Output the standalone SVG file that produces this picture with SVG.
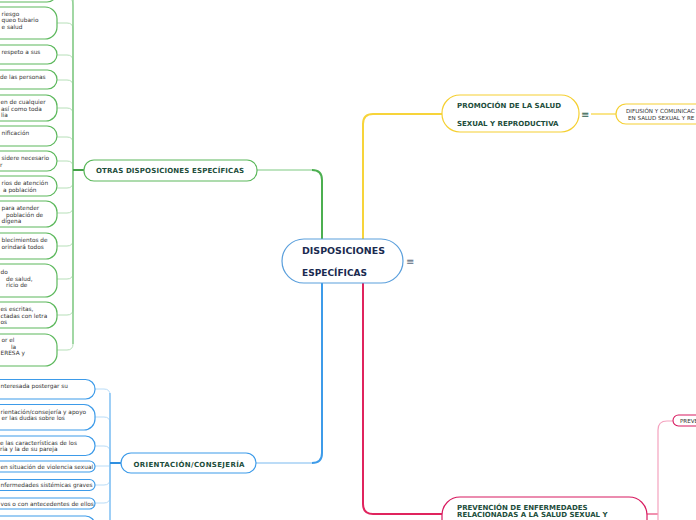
<svg xmlns="http://www.w3.org/2000/svg" width="696" height="520" viewBox="0 0 696 520">
<style>
.t{font-family:"DejaVu Sans",Verdana,sans-serif;font-size:5.8px;fill:#333}
.b{font-family:"DejaVu Sans",Verdana,sans-serif;font-weight:bold;font-size:7px;fill:#1d4d3b}
.gn{fill:#fff;stroke:#5cb85c;stroke-width:1.2}
.bn{fill:#fff;stroke:#3d9be9;stroke-width:1.2}
.gs{fill:none;stroke:#b6dfb8;stroke-width:1}
.bs{fill:none;stroke:#b9dcf7;stroke-width:1}
.ic{font-family:"DejaVu Sans",sans-serif;font-size:10px;fill:#5a6b7d}
</style>
<rect width="696" height="520" fill="#fff"/>
<g id="connectors">
  <path class="gs" d="M73 170V6Q73 -3 67 -3H57"/>
  <path class="gs" d="M73 170V29Q73 23 67 23H57"/>
  <path class="gs" d="M73 170V61Q73 55 67 55H57"/>
  <path class="gs" d="M73 170V86Q73 80 67 80H57"/>
  <path class="gs" d="M73 170V114Q73 108 67 108H57"/>
  <path class="gs" d="M73 170V143Q73 137 67 137H57"/>
  <path class="gs" d="M73 170V167Q73 161 67 161H57"/>
  <path class="gs" d="M73 170V182Q73 188 67 188H57"/>
  <path class="gs" d="M73 170V207Q73 213 67 213H57"/>
  <path class="gs" d="M73 170V240Q73 246 67 246H57"/>
  <path class="gs" d="M73 170V273Q73 279 67 279H57"/>
  <path class="gs" d="M73 170V309Q73 315 67 315H57"/>
  <path class="gs" d="M73 170V344Q73 350 67 350H57"/>
  <path fill="none" stroke="#74c477" stroke-width="1.1" d="M73 0V344"/>
  <path fill="none" stroke="#43a047" stroke-width="2" d="M84 170H73"/>
  <path fill="none" stroke="#a9dbab" stroke-width="1.5" d="M257 170H313"/>
  <path fill="none" stroke="#4caf50" stroke-width="2" d="M312 170Q322 170 322 180V239"/>
  <path class="bs" d="M110 463V395Q110 389 104 389H95"/>
  <path class="bs" d="M110 463V423Q110 417 104 417H95"/>
  <path class="bs" d="M110 463V452Q110 446 104 446H95"/>
  <path class="bs" d="M110 463V466H95"/>
  <path class="bs" d="M110 463V479Q110 485 104 485H95"/>
  <path class="bs" d="M110 463V497Q110 503 104 503H95"/>
  <path class="bs" d="M110 463V520"/>
  <path fill="none" stroke="#6cb6f2" stroke-width="1.1" d="M110 393V520"/>
  <path fill="none" stroke="#2f8fe0" stroke-width="2" d="M121 463H110"/>
  <path fill="none" stroke="#a6d1f5" stroke-width="1.5" d="M256 463H313"/>
  <path fill="none" stroke="#3d9be9" stroke-width="2" d="M312 463Q322 463 322 453V283"/>
  <path fill="none" stroke="#f7d43a" stroke-width="2" d="M363 239V124Q363 114 373 114H442"/>
  <path fill="none" stroke="#f7d43a" stroke-width="1.2" d="M591 114H616"/>
  <path fill="none" stroke="#e0245e" stroke-width="2" d="M363 283V504Q363 514 373 514H442"/>
  <path fill="none" stroke="#ec6d95" stroke-width="1.5" d="M647 514H658"/>
  <path fill="none" stroke="#f4a3bf" stroke-width="1.2" d="M658 520V430Q658 421 667 421H673"/>
</g>

<g id="n-center">
  <rect x="282" y="239" width="121" height="44" rx="22" fill="#fff" stroke="#5a9fdc" stroke-width="1.2"/>
  <text x="302" y="254" font-family="DejaVu Sans,Verdana,sans-serif" font-weight="bold" font-size="8.7" fill="#1a2a50" textLength="83" lengthAdjust="spacingAndGlyphs">DISPOSICIONES</text>
  <text x="302" y="276" font-family="DejaVu Sans,Verdana,sans-serif" font-weight="bold" font-size="8.7" fill="#1a2a50" textLength="65" lengthAdjust="spacingAndGlyphs">ESPECÍFICAS</text>
  <text class="ic" x="406" y="265">≡</text>
</g>

<g id="n-otras">
  <rect x="84" y="160" width="173" height="21" rx="10" fill="#fff" stroke="#5cb85c" stroke-width="1.2"/>
  <text class="b" x="96" y="173" textLength="148">OTRAS DISPOSICIONES ESPECÍFICAS</text>
</g>

<g id="n-orient">
  <rect x="121" y="453" width="135" height="20" rx="10" fill="#fff" stroke="#3d9be9" stroke-width="1.2"/>
  <text class="b" x="133.5" y="466.5" textLength="111">ORIENTACIÓN/CONSEJERÍA</text>
</g>

<g id="n-promo">
  <rect x="442" y="95" width="137" height="37" rx="18" fill="#fff" stroke="#f5d033" stroke-width="1.2"/>
  <text class="b" x="457" y="108" textLength="104">PROMOCIÓN DE LA SALUD</text>
  <text class="b" x="457" y="126">SEXUAL Y REPRODUCTIVA</text>
  <text class="ic" x="581" y="118" style="fill:#2e5d4a">≡</text>
</g>

<g id="n-difusion">
  <rect x="616" y="104" width="120" height="20" rx="10" fill="#fff" stroke="#f5d033" stroke-width="1.2"/>
  <text class="t" x="626" y="112.5" style="font-size:5.6px">DIFUSIÓN Y COMUNICAC</text>
  <text class="t" x="628" y="119.5" style="font-size:5.6px">EN SALUD SEXUAL Y RE</text>
</g>

<g id="n-prevencion">
  <rect x="442" y="497" width="205" height="46" rx="18" fill="#fff" stroke="#d81b60" stroke-width="1.2"/>
  <text class="b" x="457" y="509.5">PREVENCIÓN DE ENFERMEDADES</text>
  <text class="b" x="457" y="517">RELACIONADAS A LA SALUD SEXUAL Y</text>
</g>

<g id="n-prev2">
  <rect x="673" y="415" width="60" height="11" rx="5.5" fill="#fff" stroke="#d81b60" stroke-width="1.1"/>
  <text class="t" x="680" y="422.7" style="font-size:5.6px">PREVE</text>
</g>

<g id="g1"><rect class="gn" x="-100" y="-22" width="157" height="24" rx="10"/></g>
<g id="g2"><rect class="gn" x="-100" y="7" width="157" height="32" rx="12"/>
  <text class="t" x="1.5" y="16">riesgo</text><text class="t" x="1.5" y="22.3">queo tubario</text><text class="t" x="1.5" y="29">e salud</text></g>
<g id="g3"><rect class="gn" x="-100" y="45" width="157" height="19" rx="9.5"/>
  <text class="t" x="1.5" y="53.5">respeto a sus</text></g>
<g id="g4"><rect class="gn" x="-100" y="70" width="157" height="19" rx="9.5"/>
  <text class="t" x="0" y="79">de las personas</text></g>
<g id="g5"><rect class="gn" x="-100" y="95" width="157" height="26" rx="11"/>
  <text class="t" x="0.5" y="104">en de cualquier</text><text class="t" x="1" y="110.5">así como toda</text><text class="t" x="1" y="117">lia</text></g>
<g id="g6"><rect class="gn" x="-100" y="126" width="157" height="20" rx="10"/>
  <text class="t" x="1.5" y="135">nificación</text></g>
<g id="g7"><rect class="gn" x="-100" y="151" width="157" height="20" rx="10"/>
  <text class="t" x="1.5" y="160">sidere necesario</text><text class="t" x="0" y="167">r</text></g>
<g id="g8"><rect class="gn" x="-100" y="176" width="157" height="20" rx="10"/>
  <text class="t" x="1.5" y="185">rios de atención</text><text class="t" x="3" y="192">a población</text></g>
<g id="g9"><rect class="gn" x="-100" y="201" width="157" height="26" rx="11"/>
  <text class="t" x="1.5" y="210">para atender</text><text class="t" x="6" y="216.7">población de</text><text class="t" x="1.5" y="223.4">dígena</text></g>
<g id="g10"><rect class="gn" x="-100" y="233" width="157" height="26" rx="11"/>
  <text class="t" x="1.5" y="242">blecimientos de</text><text class="t" x="1.5" y="248.5">orindará todos</text></g>
<g id="g11"><rect class="gn" x="-100" y="264" width="157" height="33" rx="12"/>
  <text class="t" x="0.5" y="274">do</text><text class="t" x="6" y="280.5">de salud,</text><text class="t" x="6" y="287">ricio de</text></g>
<g id="g12"><rect class="gn" x="-100" y="302" width="157" height="26" rx="11"/>
  <text class="t" x="0.5" y="311">es escritas,</text><text class="t" x="0.5" y="317.5">ctadas con letra</text><text class="t" x="0.5" y="324">os</text></g>
<g id="g13"><rect class="gn" x="-100" y="334" width="157" height="32" rx="12"/>
  <text class="t" x="1.5" y="342">or el</text><text class="t" x="11" y="348.5">la</text><text class="t" x="0.5" y="355">ERESA y</text></g>

<g id="b1"><rect class="bn" x="-100" y="379.5" width="195" height="19.5" rx="9.5"/>
  <text class="t" x="0.5" y="388">nteresada postergar su</text></g>
<g id="b2"><rect class="bn" x="-100" y="404.5" width="195" height="25.5" rx="11"/>
  <text class="t" x="0.5" y="413.5">rientación/consejería y apoyo</text><text class="t" x="1.5" y="419.8">er las dudas sobre los</text></g>
<g id="b3"><rect class="bn" x="-100" y="436" width="195" height="19.5" rx="9.5"/>
  <text class="t" x="0" y="444.5">e las características de los</text><text class="t" x="0" y="451">ria y la de su pareja</text></g>
<g id="b4"><rect class="bn" x="-100" y="461" width="195" height="11" rx="5.5"/>
  <text class="t" x="0.5" y="468.5">en situación de violencia sexual</text></g>
<g id="b5"><rect class="bn" x="-100" y="479.5" width="195" height="11" rx="5.5"/>
  <text class="t" x="0.5" y="487">nfermedades sistémicas graves</text></g>
<g id="b6"><rect class="bn" x="-100" y="498" width="195" height="11" rx="5.5"/>
  <text class="t" x="0.5" y="505.8">vos o con antecedentes de ellos</text></g>
<g id="b7"><rect class="bn" x="-100" y="516" width="195" height="20" rx="9.5"/></g>
</svg>
